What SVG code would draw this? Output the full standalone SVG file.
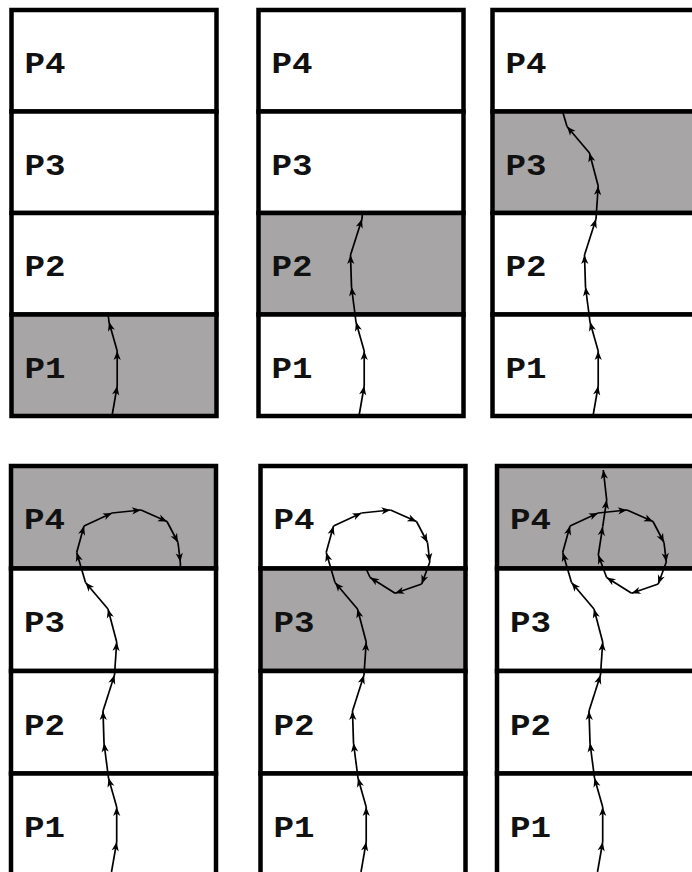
<svg xmlns="http://www.w3.org/2000/svg" width="692" height="872" viewBox="0 0 692 872">
<style>
.cell{fill:#ffffff;stroke:#000;stroke-width:4.5}
.on{fill:#a7a5a5}
.lbl{font-family:"Courier New","Liberation Mono",monospace;font-weight:bold;font-size:29px;fill:#111}
.seg{stroke:#000;stroke-width:1.7;fill:none;marker-end:url(#ah)}
.stub{stroke:#000;stroke-width:1.7;fill:none}
</style>
<defs>
<marker id="ah" viewBox="-10 -5 11 10" refX="0" refY="0" markerWidth="11" markerHeight="10" markerUnits="userSpaceOnUse" orient="auto">
<path d="M0,0 L-9,-3.6 L-6.5,0 L-9,3.6 Z" fill="#000"/>
</marker>
<g id="g1">
<line class="seg" x1="100.5" y1="406" x2="105.7" y2="376"/>
<line class="seg" x1="105.7" y1="376" x2="105.7" y2="341"/>
<line class="seg" x1="105.7" y1="341" x2="97.5" y2="312"/>
</g>
<g id="g2">
<line class="seg" x1="97.5" y1="312" x2="93" y2="277"/>
<line class="seg" x1="93" y1="277" x2="92" y2="245"/>
<line class="seg" x1="92" y1="245" x2="103.5" y2="209"/>
</g>
<g id="g3">
<line class="seg" x1="103.5" y1="209" x2="105.7" y2="176"/>
<line class="seg" x1="105.7" y1="176" x2="97" y2="143"/>
<line class="seg" x1="97" y1="143" x2="74.5" y2="116.5"/>
</g>
<g id="g4">
<line class="seg" x1="74.5" y1="116.5" x2="65.7" y2="86.5"/>
<line class="seg" x1="65.7" y1="86.5" x2="73" y2="60"/>
<line class="seg" x1="73" y1="60" x2="101" y2="47"/>
<line class="seg" x1="101" y1="47" x2="130" y2="44"/>
<line class="seg" x1="130" y1="44" x2="156" y2="55.5"/>
<line class="seg" x1="156" y1="55.5" x2="167" y2="76.5"/>
<line class="seg" x1="167" y1="76.5" x2="169.3" y2="96"/>
</g>
<g id="g5">
<line class="seg" x1="169.3" y1="96" x2="161.2" y2="118"/>
<line class="seg" x1="161.2" y1="118" x2="134.6" y2="127.3"/>
<line class="seg" x1="134.6" y1="127.3" x2="109.6" y2="111.5"/>
</g>
<g id="g6">
<line class="seg" x1="109.6" y1="111.5" x2="101.3" y2="89"/>
<line class="seg" x1="101.3" y1="89" x2="105.7" y2="60.7"/>
<line class="seg" x1="105.7" y1="60.7" x2="109.7" y2="34"/>
<line class="seg" x1="109.7" y1="34" x2="106.3" y2="4"/>
</g>
</defs>

<!-- Panel 1 -->
<g id="panel1" transform="translate(11.5,10)">
<g id="p1-P4"><rect class="cell" x="0" y="0" width="205" height="101.5"/><text class="lbl" x="13" y="63" textLength="41" lengthAdjust="spacingAndGlyphs">P4</text></g>
<g id="p1-P3"><rect class="cell" x="0" y="101.5" width="205" height="101.5"/><text class="lbl" x="13" y="165" textLength="41" lengthAdjust="spacingAndGlyphs">P3</text></g>
<g id="p1-P2"><rect class="cell" x="0" y="203" width="205" height="101.5"/><text class="lbl" x="13" y="266" textLength="41" lengthAdjust="spacingAndGlyphs">P2</text></g>
<g id="p1-P1"><rect class="cell on" x="0" y="304.5" width="205" height="101.5"/><text class="lbl" x="13" y="368" textLength="41" lengthAdjust="spacingAndGlyphs">P1</text></g>
<g id="p1-connectors">
<use href="#g1"/>
<line class="stub" x1="97.5" y1="312" x2="96.6" y2="304.5"/>
</g>
</g>

<!-- Panel 2 -->
<g id="panel2" transform="translate(258.5,10)">
<g id="p2-P4"><rect class="cell" x="0" y="0" width="205" height="101.5"/><text class="lbl" x="13" y="63" textLength="41" lengthAdjust="spacingAndGlyphs">P4</text></g>
<g id="p2-P3"><rect class="cell" x="0" y="101.5" width="205" height="101.5"/><text class="lbl" x="13" y="165" textLength="41" lengthAdjust="spacingAndGlyphs">P3</text></g>
<g id="p2-P2"><rect class="cell on" x="0" y="203" width="205" height="101.5"/><text class="lbl" x="13" y="266" textLength="41" lengthAdjust="spacingAndGlyphs">P2</text></g>
<g id="p2-P1"><rect class="cell" x="0" y="304.5" width="205" height="101.5"/><text class="lbl" x="13" y="368" textLength="41" lengthAdjust="spacingAndGlyphs">P1</text></g>
<g id="p2-connectors">
<use href="#g1"/><use href="#g2"/>
<line class="stub" x1="103.5" y1="209" x2="103.9" y2="203"/>
</g>
</g>

<!-- Panel 3 -->
<g id="panel3" transform="translate(492.5,10)">
<g id="p3-P4"><rect class="cell" x="0" y="0" width="205" height="101.5"/><text class="lbl" x="13" y="63" textLength="41" lengthAdjust="spacingAndGlyphs">P4</text></g>
<g id="p3-P3"><rect class="cell on" x="0" y="101.5" width="205" height="101.5"/><text class="lbl" x="13" y="165" textLength="41" lengthAdjust="spacingAndGlyphs">P3</text></g>
<g id="p3-P2"><rect class="cell" x="0" y="203" width="205" height="101.5"/><text class="lbl" x="13" y="266" textLength="41" lengthAdjust="spacingAndGlyphs">P2</text></g>
<g id="p3-P1"><rect class="cell" x="0" y="304.5" width="205" height="101.5"/><text class="lbl" x="13" y="368" textLength="41" lengthAdjust="spacingAndGlyphs">P1</text></g>
<g id="p3-connectors">
<use href="#g1"/><use href="#g2"/><use href="#g3"/>
<line class="stub" x1="74.5" y1="116.5" x2="70.1" y2="101.5"/>
</g>
</g>

<!-- Panel 4 -->
<g id="panel4" transform="translate(11,466)">
<g id="p4-P4"><rect class="cell on" x="0" y="0" width="205" height="102.5"/><text class="lbl" x="13" y="63" textLength="41" lengthAdjust="spacingAndGlyphs">P4</text></g>
<g id="p4-P3"><rect class="cell" x="0" y="102.5" width="205" height="102.5"/><text class="lbl" x="13" y="166" textLength="41" lengthAdjust="spacingAndGlyphs">P3</text></g>
<g id="p4-P2"><rect class="cell" x="0" y="205" width="205" height="102.5"/><text class="lbl" x="13" y="269" textLength="41" lengthAdjust="spacingAndGlyphs">P2</text></g>
<g id="p4-P1"><rect class="cell" x="0" y="307.5" width="205" height="102.5"/><text class="lbl" x="13" y="371" textLength="41" lengthAdjust="spacingAndGlyphs">P1</text></g>
<g id="p4-connectors">
<use href="#g1"/><use href="#g2"/><use href="#g3"/><use href="#g4"/>
<line class="stub" x1="169.3" y1="96" x2="169.5" y2="102.5"/>
</g>
</g>

<!-- Panel 5 -->
<g id="panel5" transform="translate(260.5,466)">
<g id="p5-P4"><rect class="cell" x="0" y="0" width="205" height="102.5"/><text class="lbl" x="13" y="63" textLength="41" lengthAdjust="spacingAndGlyphs">P4</text></g>
<g id="p5-P3"><rect class="cell on" x="0" y="102.5" width="205" height="102.5"/><text class="lbl" x="13" y="166" textLength="41" lengthAdjust="spacingAndGlyphs">P3</text></g>
<g id="p5-P2"><rect class="cell" x="0" y="205" width="205" height="102.5"/><text class="lbl" x="13" y="269" textLength="41" lengthAdjust="spacingAndGlyphs">P2</text></g>
<g id="p5-P1"><rect class="cell" x="0" y="307.5" width="205" height="102.5"/><text class="lbl" x="13" y="371" textLength="41" lengthAdjust="spacingAndGlyphs">P1</text></g>
<g id="p5-connectors">
<use href="#g1"/><use href="#g2"/><use href="#g3"/><use href="#g4"/><use href="#g5"/>
<line class="stub" x1="109.6" y1="111.5" x2="105.5" y2="102.5"/>
</g>
</g>

<!-- Panel 6 -->
<g id="panel6" transform="translate(497,466)">
<g id="p6-P4"><rect class="cell on" x="0" y="0" width="205" height="102.5"/><text class="lbl" x="13" y="63" textLength="41" lengthAdjust="spacingAndGlyphs">P4</text></g>
<g id="p6-P3"><rect class="cell" x="0" y="102.5" width="205" height="102.5"/><text class="lbl" x="13" y="166" textLength="41" lengthAdjust="spacingAndGlyphs">P3</text></g>
<g id="p6-P2"><rect class="cell" x="0" y="205" width="205" height="102.5"/><text class="lbl" x="13" y="269" textLength="41" lengthAdjust="spacingAndGlyphs">P2</text></g>
<g id="p6-P1"><rect class="cell" x="0" y="307.5" width="205" height="102.5"/><text class="lbl" x="13" y="371" textLength="41" lengthAdjust="spacingAndGlyphs">P1</text></g>
<g id="p6-connectors">
<use href="#g1"/><use href="#g2"/><use href="#g3"/><use href="#g4"/><use href="#g5"/><use href="#g6"/>
</g>
</g>
</svg>
